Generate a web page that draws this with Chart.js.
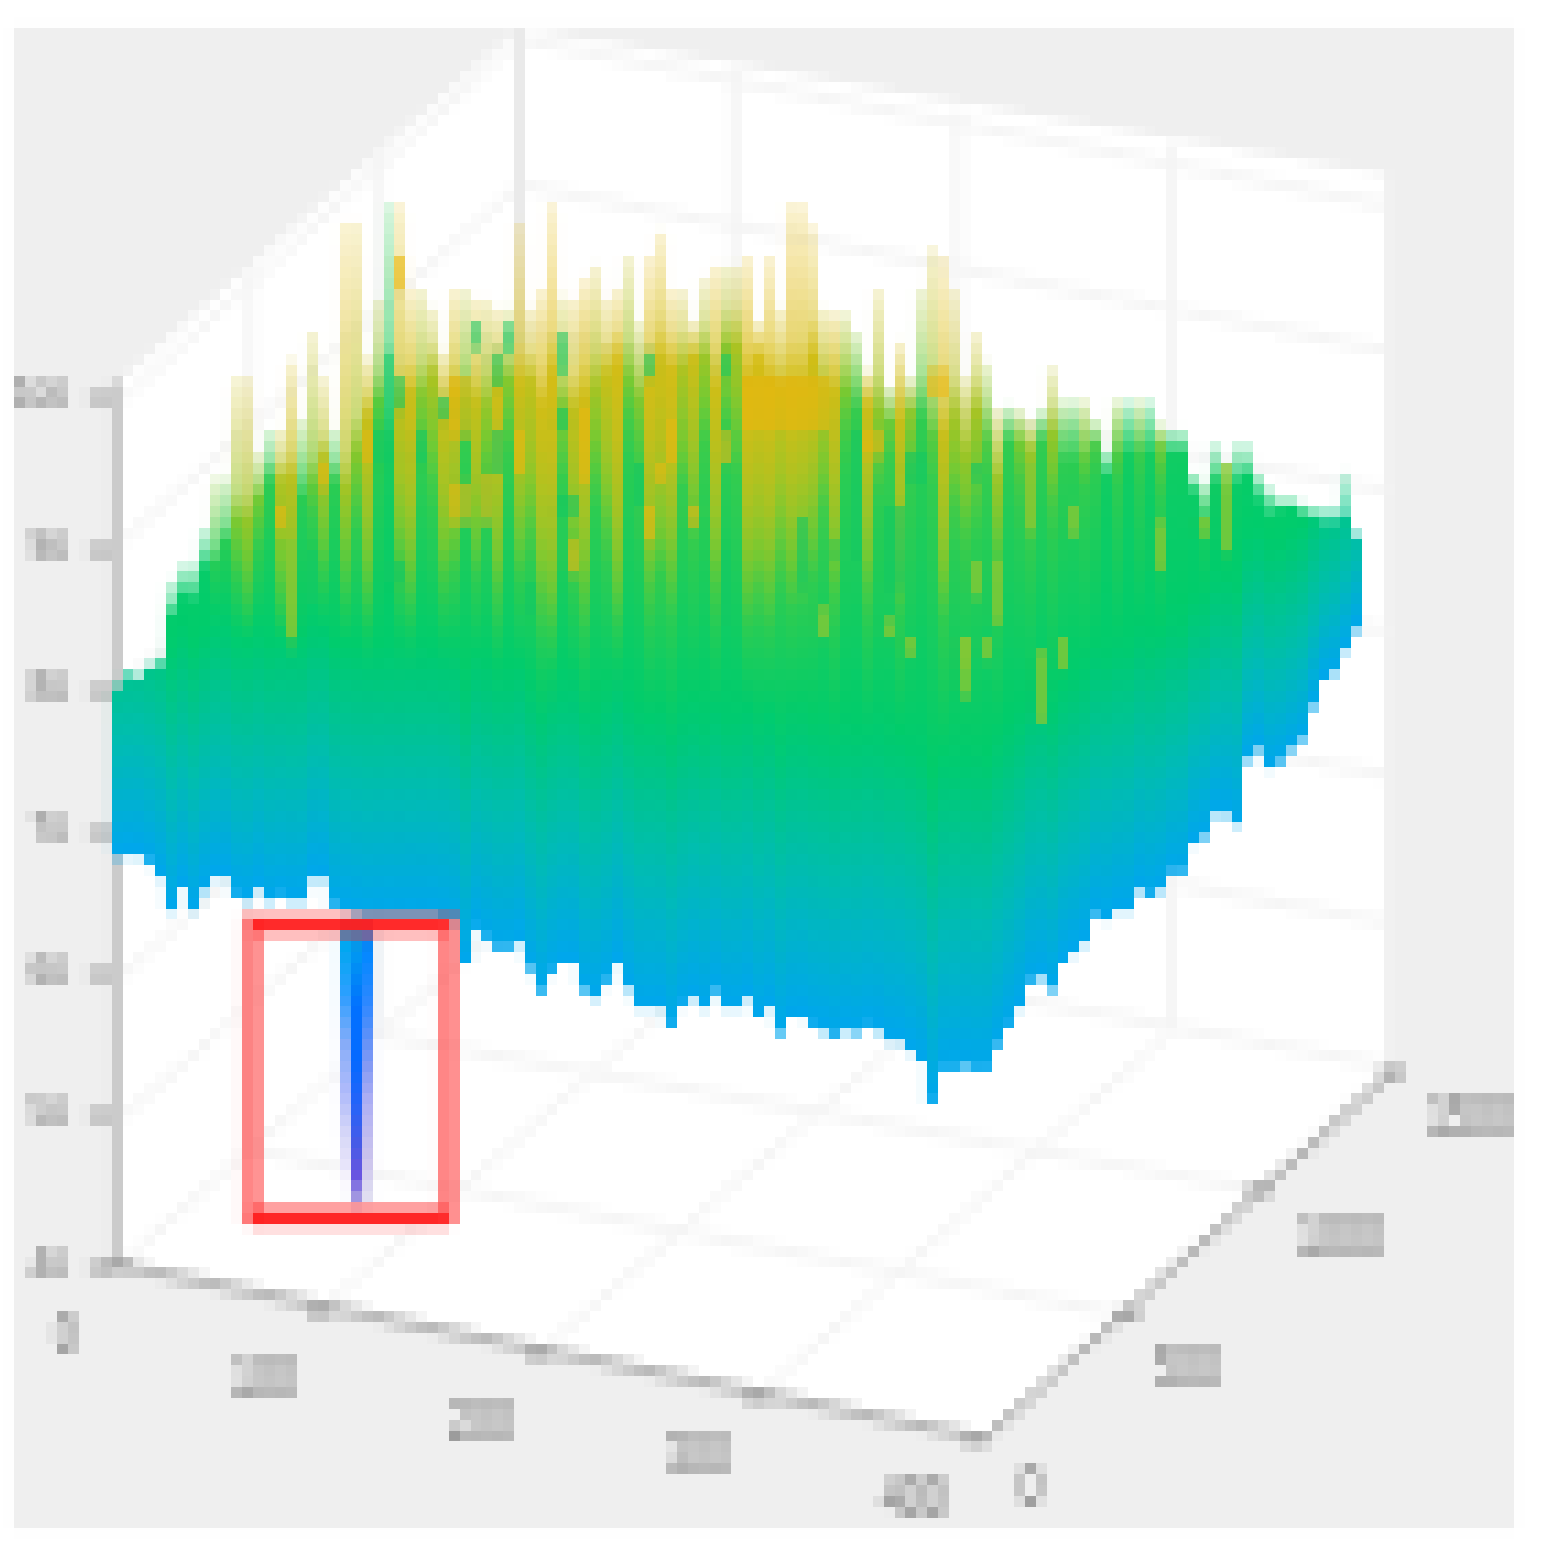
<!DOCTYPE html>
<html><head><meta charset="utf-8">
<style>
html,body{margin:0;padding:0;background:#fff;overflow:hidden;width:1542px;height:1568px}
#c{position:absolute;left:3.3px;top:6.3px;image-rendering:pixelated}
</style>
<script src="https://cdn.jsdelivr.net/npm/chart.js@4"></script>
</head><body>
<canvas id="c" width="1533" height="1555"></canvas>
<script>
const zTicks=[40,50,60,70,80,90,100];
const xTickLabels=["0","100","200","300","400"];
const yTickLabels=["0","500","1000","1500"];

const surfaceTops=[80.5,81.4,81.2,81.9,82.3,87.5,88.8,88.8,91.2,94.8,94.8,101.8,101.8,96.5,98.1,98.1,103.0,98.8,104.9,101.8,98.1,112.5,112.5,103.2,107.2,113.9,113.9,107.9,107.9,106.5,103.5,107.9,107.9,107.2,107.2,106.5,106.5,112.5,106.5,107.9,
113.9,107.4,107.2,108.6,109.5,107.2,107.9,110.2,105.6,110.2,111.8,107.9,107.9,105.6,108.6,109.5,109.5,109.5,110.2,105.6,
110.2,106.5,113.9,113.9,112.3,106.5,106.3,106.3,104.9,102.3,107.9,101.1,104.2,101.8,107.9,110.8,110.2,107.9,101.8,104.9,
102.8,99.5,99.7,99.5,98.8,99.5,102.5,100.2,100.2,100.2,98.8,96.7,100.2,100.2,100.2,100.2,98.6,98.1,98.1,
95.1,94.4,97.2,95.1,97.2,97.2,95.1,94.1,93.4,93.4,93.0,92.7,92.7,92.7,95.1,91.2];

const surfaceLows=[68.4,68.5,68.5,67.9,67.0,64.7,66.3,64.7,66.1,67.0,67.0,65.6,65.4,66.2,65.4,65.6,65.4,65.4,66.9,66.9,64.9,64.7,64.4,64.2,64.2,64.2,64.2,
64.2,64.2,64.2,64.0,63.8,61.0,63.3,62.6,61.9,61.9,62.4,60.5,58.9,60.3,61.0,61.0,59.0,58.6,59.6,61.0,59.3,57.9,57.9,57.9,56.5,58.0,58.6,57.9,58.9,57.9,57.9,58.6,57.2,57.9,56.0,57.2,57.2,56.5,56.3,55.8,56.3,56.1,56.5,56.3,55.6,55.6,54.9,54.2,51.2,53.5,53.5,53.7,53.5,53.5,55.1,56.5,57.9,59.6,60.0,
59.1,61.0,61.7,62.4,64.2,64.0,64.7,64.7,66.1,65.6,66.1,67.2,67.2,69.3,69.7,71.4,71.4,70.7,75.1,75.8,74.6,74.9,75.8,76.5,78.8,80.7,81.2,82.8,84.2];

const surfaceBody=[80,81,81,81.5,82,85,87,87,89,90,91,92,93,94,95,95,96,95,96,96,95,96,97,100,
101,100,101,102,102,102,101,102,102,102,102,102,102,102,102,102,
102,102,101,103,103,102,103,103,102,103,104,103,103,103,103,103,104,104,104,103,
103,103,103,103,103,103,103,103,102,101,101,100,101,100,100,100,100,99,99,100,
99,97,98,98,97,98,98,98,98,98,97,96,98,98,98,98,97,97,97,
94,93,95,94,95,95,94,93,93,93,92.5,92,92,92,92,90.5];

const surfaceWarm=[120,120,120,120,120,120,120,120,120,
90,92,88,86,90,97,86,84,95,92,88,97,87,92,86,98,120,88,86,96,94,87,88,98,88,94,86,97,88,90,85,
84,95,88,85,94,90,85,98,96,86,88,86,94,90,97,86,98,96,85,86,85,88,86,87,88,92,86,97,100,86,94,96,86,94,100,96,85,92,90,
92,96,88,98,94,90,98,92,97,98,94,96,120,95,120,96,120,94,120,120,120,96,120,96,120,120,120,120,120,120,120,120,120,120,120,120];

const emeraldStreaks=[[25,95.8,103.5],[26,99.5,101.8],[24,95.8,98.1],[28,95.8,98.1],[30,98.8,100.4],[33,103.7,105.6],[35,101.1,103.5],[35,95.1,98.1],[36,103.5,105.5],[18,86,89.8],[25,87.4,89],[26,87.4,89],[38,85.3,87.4],
[41,102,104.8],[41,98.1,99.7],[41,92.1,93.5],[42,92.1,93.5],[49,101.8,103.5],[48,92.8,95.8],[56,101.8,103.5],[68,89.3,98.1],[73,94.4,96.5],[74,94.4,96.5],[71,87,92.8],[72,87,92.8],[79,94.5,95.8],[66,89.3,90.2],[56,84.6,89.8],[63,87,92]];
const limeStreaks=[[16,83.7,90.4],[79,86.5,89],[81,84.6,89],[78,79.5,83.7],[80,82.1,83.7],[85,77.7,82.8],[87,81.4,83.7],[100,90.7,92],[102,89.7,95.8],[84,91.1,95.8],[88,90.7,92.8],[96,88.3,91.8],[65,83.7,85.8],[71,83.7,85],[73,82.3,83.7],[78,81.6,83.7]];
const goldStreaks=[[31,97.6,101.8],[32,97.6,101.8],[31,91.6,94.4],[32,91.6,94.4],[37,95.1,98.1],[34,91.6,95.1],[23,95.8,98.1],[19,94,96],[26,107.9,110.2],[15,91.1,92.8],
[51,95.8,98.8],[50,94.4,95.8],[43,94.4,99.7],[53,91.4,92.8],[49,90.4,92.8],[42,88.1,90.4],[56,95.8,98],[58,98.1,101.8],[59,98.1,101.8],[60,98.1,101.8],[61,98.1,101.8],[62,98.1,101.8],[63,98.1,101.8],[64,98.1,101.8],[65,98.1,101.8],[75,100.4,102.3],[76,100.4,102.3],[69,96.3,98],[70,96.3,98]];

const detailColumns=[345.7,356.6,367.4];
const detailTops=[63.9,63.9,63.9];
const detailLows=[46.5,44.2,44.2];

const columnX=surfaceLows.map((_,k)=>112+10.87*(k+0.5));

function hex(s){return [parseInt(s.slice(1,3),16),parseInt(s.slice(3,5),16),parseInt(s.slice(5,7),16)];}
function ramp(tbl,v){
  if(v<=tbl[0][0])return hex(tbl[0][1]);
  for(let j=1;j<tbl.length;j++){
    if(v<=tbl[j][0]){
      const a=hex(tbl[j-1][1]),b=hex(tbl[j][1]),t=(v-tbl[j-1][0])/(tbl[j][0]-tbl[j-1][0]);
      return a.map((c,n)=>Math.round(c+(b[n]-c)*t));
    }
  }
  return hex(tbl[tbl.length-1][1]);
}
const cache={};
function surfaceFill(ctx){
  const chart=ctx.chart,i=ctx.dataIndex;
  if(!chart.chartArea||i===undefined)return '#00c080';
  if(cache[i])return cache[i];
  const y=chart.scales.y,low=surfaceLows[i],top=surfaceTops[i],body=Math.min(surfaceBody[i],top),w=surfaceWarm[i];
  const tealAt=low+6+(80-low)*0.19,greenAt=low+14+(80-low)*0.3;
  const tbl=[[low,'#00a6ee'],[tealAt,'#00bdb0'],[greenAt,'#00cc6c']];
  if(w>greenAt){tbl.push([w,'#30cc50']);}
  const w0=Math.max(w,greenAt+0.1);
  tbl.push([w0+3,'#70ca34'],[w0+7,'#a4c424'],[w0+13,'#ccbe18'],[w0+24,'#e4bc14']);
  const g=chart.ctx.createLinearGradient(0,y.getPixelForValue(low),0,y.getPixelForValue(top));
  const n=18;
  for(let s=0;s<=n;s++){
    const v=low+(top-low)*s/n,c=ramp(tbl,v);
    let al=1;
    if(v>body&&top>body){al=0.66-0.48*(v-body)/(top-body);}
    g.addColorStop(s/n,`rgba(${c[0]},${c[1]},${c[2]},${al.toFixed(2)})`);
  }
  cache[i]=g;return g;
}
const detailStops=[
 [[0,'#2c7fb0'],[0.1,'#00a8f0'],[0.3,'#30a0ff'],[0.5,'#90b0f8'],[0.7,'#b8c0fa'],[0.85,'#dcdcf8'],[1,'#f0ecfb']],
 [[0,'#2c78a8'],[0.1,'#009cf0'],[0.3,'#0070ff'],[0.5,'#0068ff'],[0.65,'#2060f8'],[0.78,'#4058e8'],[0.9,'#6450e0'],[1,'#b0a8e0']],
 [[0,'#4c70a8'],[0.1,'#0088ff'],[0.3,'#3088ff'],[0.5,'#8098f4'],[0.65,'#b0b0f4'],[0.85,'#ccc4ec'],[1,'#e4e4f2']]
];
function detailFill(ctx){
  const chart=ctx.chart,i=ctx.dataIndex;
  if(!chart.chartArea||i===undefined)return '#0070ff';
  const y=chart.scales.y;
  const g=chart.ctx.createLinearGradient(0,y.getPixelForValue(detailTops[i]),0,y.getPixelForValue(detailLows[i]));
  detailStops[i].forEach(s=>g.addColorStop(s[0],s[1]));
  return g;
}
function seg(c,a,b,color,w){c.strokeStyle=color;c.lineWidth=w;c.lineCap='butt';c.beginPath();c.moveTo(a[0],a[1]);c.lineTo(b[0],b[1]);c.stroke();}
function tallText(c,t,x,y){c.save();c.translate(x,y+3);c.scale(1,1.3);c.fillText(t,0,0);c.restore();}

const framePlugin={id:'frame3d',
 beforeDraw(chart){
  const c=chart.ctx;c.save();c.translate(-3.3,-6.3);
  c.fillStyle='#efefef';c.fillRect(13,27,1502,1502);
  c.fillStyle='#ffffff';c.beginPath();
  [[120,380],[520,28],[1385,175],[1385,1070],[985,1438],[118,1265]].forEach((p,n)=>n?c.lineTo(p[0],p[1]):c.moveTo(p[0],p[1]));
  c.closePath();c.fill();
  const pale='#f4f4f4';
  [[910,1065],[765,922],[620,775],[475,630],[330,490],[185,350],[40,205]].forEach(l=>seg(c,[520,l[0]],[1385,l[1]],pale,9));
  [[1265,910],[1120,765],[978,620],[832,475],[687,330],[544,185],[403,40]].forEach(l=>seg(c,[120,l[0]],[520,l[1]],pale,9));
  seg(c,[520,28],[520,910],'#e8e8e8',10);
  [[250,265,1150],[380,150,1035],[735,70,950],[958,110,991],[1172,145,1031]].forEach(l=>seg(c,[l[0],l[1]],[l[0],l[2]],pale,9));
  [[320,1311,735,950],[538,1354,958,991],[757,1397,1172,1031],[1127,1315,250,1150],[1260,1190,380,1035]].forEach(l=>seg(c,[l[0],l[1]],[l[2],l[3]],pale,9));
  seg(c,[117,380],[117,1270],'#c4c4c4',10);
  seg(c,[118,1265],[985,1438],'#b2b2b2',10);
  seg(c,[985,1438],[1393,1072],'#b2b2b2',10);
  [[320,1311],[538,1354],[757,1397],[118,1265],[975,1440],[1127,1315],[1260,1190],[1393,1072]].forEach(p=>seg(c,[p[0]-12,p[1]],[p[0]+12,p[1]],'#9c9c9c',10));
  c.fillStyle='#6c6c6c';c.font='39px "Liberation Sans"';c.textAlign='center';c.textBaseline='middle';
  [[66,1332],[263,1377],[481,1420],[698,1460],[915,1505]].forEach((p,n)=>tallText(c,xTickLabels[n],p[0],p[1]));
  [[1030,1485],[1188,1365],[1340,1235],[1470,1115]].forEach((p,n)=>tallText(c,yTickLabels[n],p[0],p[1]));
  c.restore();
 },
 afterDatasetsDraw(chart){
  const c=chart.ctx;c.save();c.translate(-3.3,-6.3);
  c.fillStyle='rgba(255,60,60,0.62)';
  c.fillRect(242,920,21,304);c.fillRect(438,920,21,304);
  c.fillStyle='rgba(255,70,70,0.35)';
  c.fillRect(242,909,217,11);c.fillRect(252,931,196,10);
  c.fillStyle='rgba(255,70,70,0.55)';c.fillRect(252,1203,196,10);
  c.fillStyle='rgba(255,70,70,0.18)';c.fillRect(252,1224,196,10);
  c.fillStyle='#ff2020';
  c.fillRect(252,920,196,10.5);c.fillRect(252,1213,196,10.5);
  c.restore();
 }
};
function streakSet(label,list,color,order){
  return {label,data:list.map(s=>({x:columnX[s[0]],y:[s[1],s[2]]})),backgroundColor:color,barThickness:11,borderWidth:0,borderSkipped:false,grouped:false,order,clip:false};
}

new Chart(document.getElementById('c'),{
 type:'bar',
 data:{datasets:[
  {label:'surface',data:surfaceLows.map((l,k)=>({x:columnX[k],y:[l,surfaceTops[k]]})),backgroundColor:surfaceFill,barThickness:11,borderWidth:0,borderSkipped:false,grouped:false,order:5,clip:false},
  streakSet('lime',limeStreaks,'rgba(132,200,52,0.8)',4),
  streakSet('gold',goldStreaks,'rgba(232,184,16,0.62)',3),
  streakSet('emerald',emeraldStreaks,'rgba(20,200,100,0.6)',2),
  {label:'detail',data:detailColumns.map((x,k)=>({x:x,y:[detailLows[k],detailTops[k]]})),backgroundColor:detailFill,barThickness:11,borderWidth:0,borderSkipped:false,grouped:false,order:1}
 ]},
 options:{
  responsive:false,animation:false,devicePixelRatio:141.02/1533,
  layout:{padding:0},
  plugins:{legend:{display:false},tooltip:{enabled:false}},
  scales:{
   x:{type:'linear',display:false,min:117.3,max:1536.3,offset:false},
   y:{type:'linear',min:19.28,max:127.64,
      afterFit(s){s.width=114;s.paddingTop=0;s.paddingBottom=0;},
      afterBuildTicks(s){s.ticks=zTicks.map(v=>({value:v}));},
      border:{display:false},
      grid:{drawOnChartArea:false,drawTicks:true,tickLength:28,tickWidth:10,tickColor:'#a0a0a0'},
      ticks:{padding:20,color:'#6c6c6c',font:{family:'"Liberation Sans"',size:35},autoSkip:false,callback:v=>String(v)}
   }
  }
 },
 plugins:[framePlugin]
});
</script>
</body></html>
